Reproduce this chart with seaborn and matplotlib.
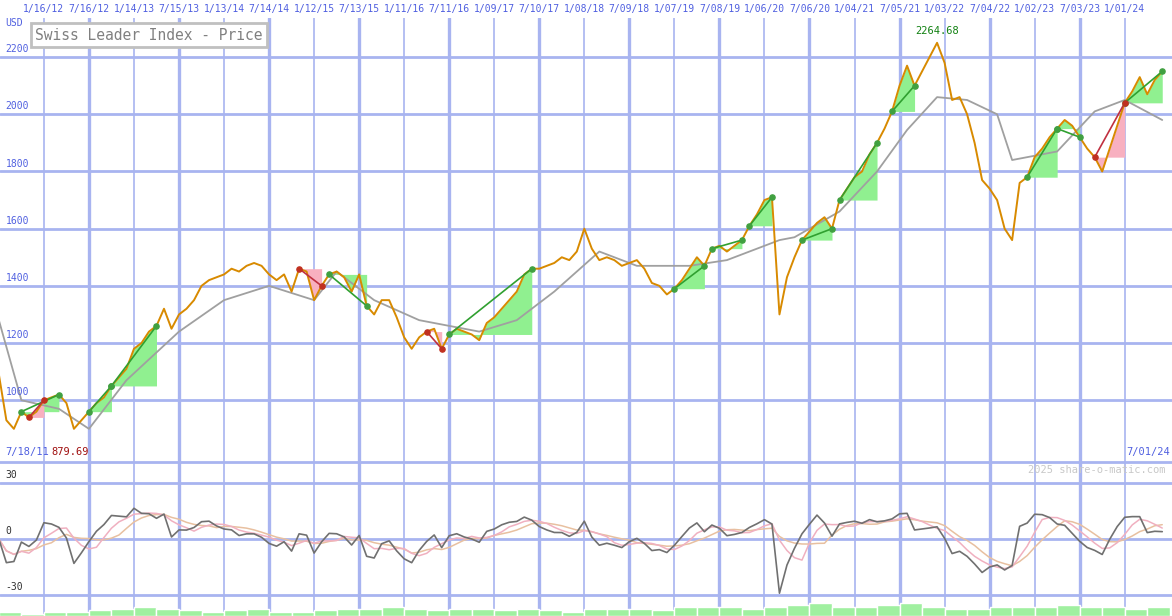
import numpy as np
import pandas as pd
import matplotlib
matplotlib.use("Agg")
import matplotlib.pyplot as plt
import seaborn as sns

sns.set_style("white")
plt.rcParams["font.family"] = ["DejaVu Sans Mono"]

# monthly closes, Jul 2011 .. Jun 2024 (month index 0 = Jul 2011)
price = [1090, 930, 900, 960, 940, 960,
         1000, 1010, 1020, 990, 900, 930, 960, 990, 1010, 1050, 1080, 1110,
         1180, 1200, 1240, 1260, 1320, 1250, 1300, 1320, 1350, 1400, 1420, 1430,
         1440, 1460, 1450, 1470, 1480, 1470, 1440, 1420, 1440, 1380, 1460, 1450,
         1350, 1400, 1440, 1450, 1430, 1380, 1440, 1330, 1300, 1350, 1350, 1290,
         1220, 1180, 1220, 1240, 1250, 1180, 1230, 1250, 1240, 1230, 1210, 1270,
         1290, 1320, 1350, 1380, 1440, 1460, 1460, 1470, 1480, 1500, 1490, 1520,
         1600, 1530, 1490, 1500, 1490, 1470, 1480, 1490, 1460, 1410, 1400, 1370,
         1390, 1420, 1460, 1500, 1470, 1530, 1540, 1520, 1540, 1560, 1610, 1650,
         1700, 1710, 1300, 1430, 1500, 1560, 1590, 1620, 1640, 1600, 1700, 1740,
         1780, 1800, 1860, 1900, 1950, 2010, 2100, 2170, 2100, 2150, 2200, 2250,
         2180, 2050, 2060, 2000, 1900, 1770, 1740, 1700, 1600, 1560, 1760, 1780,
         1850, 1880, 1920, 1950, 1980, 1960, 1920, 1880, 1850, 1800, 1880, 1960,
         2040, 2080, 2130, 2070, 2120, 2150]

# benchmark (grey), month index / value
bench_m = [0, 3, 8, 12, 17, 24, 30, 36, 42, 45, 50, 56, 64, 69, 74, 80, 85, 92,
           97, 104, 106, 112, 117, 121, 125, 129, 133, 135, 141, 146, 150, 155]
bench_v = [1280, 1000, 970, 900, 1070, 1240, 1350, 1400, 1350, 1450, 1350, 1280,
           1240, 1280, 1380, 1520, 1470, 1470, 1490, 1560, 1570, 1660, 1800, 1945,
           2060, 2050, 2000, 1840, 1870, 2010, 2050, 1980]

green_seg = [(3, 8), (12, 15), (15, 21), (44, 49), (60, 71), (90, 94), (95, 99),
             (100, 103), (107, 111), (112, 117), (119, 122), (137, 141), (141, 144),
             (150, 155)]
red_seg = [(4, 6), (40, 43), (57, 59), (146, 150)]

# volume-like bars at the bottom (quarterly)
vol = [2, 1, 2, 2, 3, 4, 5, 4, 3, 2, 3, 4, 2, 2, 3, 4, 4, 5, 4, 3, 4, 4, 3, 4,
       3, 2, 4, 4, 4, 3, 5, 5, 5, 4, 5, 6, 7, 5, 5, 6, 7, 5, 4, 4, 5, 5, 5, 6,
       5, 5, 4, 5]

date_labels = ["1/16/12", "7/16/12", "1/14/13", "7/15/13", "1/13/14", "7/14/14",
               "1/12/15", "7/13/15", "1/11/16", "7/11/16", "1/09/17", "7/10/17",
               "1/08/18", "7/09/18", "1/07/19", "7/08/19", "1/06/20", "7/06/20",
               "1/04/21", "7/05/21", "1/03/22", "7/04/22", "1/02/23", "7/03/23",
               "1/01/24"]

df = pd.DataFrame({"m": np.arange(len(price)), "price": price})
s = df["price"]
osc = (s / s.rolling(6, min_periods=1).mean() - 1) * 100 * 1.6
osc_ma1 = osc.rolling(4, min_periods=1).mean()
osc_ma2 = osc.rolling(7, min_periods=1).mean()

grid_c = "#a8b4f0"
blue_t = "#5060e0"
fig = plt.figure(figsize=(11.72, 6.16), dpi=100)
ax = fig.add_axes([0, 0.25, 1, 0.72])
ax2 = fig.add_axes([0, 0, 1, 0.25])
xlim = (0.15, 156.3)
for a in (ax, ax2):
    a.set_xlim(*xlim)
    a.set_xticks([])
    a.set_yticks([])
    for sp in a.spines.values():
        sp.set_visible(False)
    for k in range(len(date_labels)):
        a.axvline(6 + 6 * k, color=grid_c, lw=2.4 if k % 2 else 1.2, zorder=0)
ax2.spines["top"].set_visible(True)
ax2.spines["top"].set_color(grid_c)
ax2.spines["top"].set_linewidth(2)

ax.set_ylim(784, 2335)
for v in range(1000, 2400, 200):
    ax.axhline(v, color=grid_c, lw=2, zorder=0)
    ax.text(0.9, v + 10, str(v), color=blue_t, fontsize=7, va="bottom")
ax.text(0.9, 2300, "USD", color=blue_t, fontsize=7, va="bottom")

# highlighted segments
for a0, b0 in green_seg:
    seg = df.iloc[a0:b0 + 1]
    ax.fill_between(seg["m"], seg["price"], price[a0], color="#90f090", zorder=1, lw=0)
    ax.plot([a0, b0], [price[a0], price[b0]], color="#30a030", lw=1.2, zorder=4)
    ax.scatter([a0, b0], [price[a0], price[b0]], s=14, color="#40a040", zorder=5)
for a0, b0 in red_seg:
    seg = df.iloc[a0:b0 + 1]
    ax.fill_between(seg["m"], seg["price"], price[a0], color="#f8b0c0", zorder=1, lw=0)
    ax.plot([a0, b0], [price[a0], price[b0]], color="#c03040", lw=1.2, zorder=4)
    ax.scatter([a0, b0], [price[a0], price[b0]], s=14, color="#c03020", zorder=5)

sns.lineplot(x=bench_m, y=bench_v, ax=ax, color="#a0a0a0", lw=1.3, zorder=2)
sns.lineplot(data=df, x="m", y="price", ax=ax, color="#d88a00", lw=1.4, zorder=3)
ax.set_xlabel("")
ax.set_ylabel("")

imax = int(np.argmax(price))
ax.text(imax, price[imax] + 25, f"{2264.68:.2f}", color="#108010", fontsize=7.5, ha="center", va="bottom")
ax.text(7, 800, "879.69", color="#a01010", fontsize=7.5, ha="left", va="bottom")
ax.text(0.9, 800, "7/18/11", color=blue_t, fontsize=7.5, ha="left", va="bottom")
ax.text(156, 800, "7/01/24", color=blue_t, fontsize=7.5, ha="right", va="bottom")

for k, lab in enumerate(date_labels):
    ax.text(6 + 6 * k, 1.022, lab, transform=ax.get_xaxis_transform(), color=blue_t,
            fontsize=7, ha="center", va="center")

ax.text(4.8, 2277, "Swiss Leader Index - Price", color="#808080", fontsize=10.5, va="center",
        bbox=dict(boxstyle="square,pad=0.3", fc="white", ec="#c0c0c0", lw=2))

# lower panel
ax2.set_ylim(-41.25, 41.25)
for v in (30, 0, -30):
    ax2.axhline(v, color=grid_c, lw=2, zorder=0)
    ax2.text(0.9, v + 1.5, str(v), color="#303030", fontsize=7, va="bottom")
vm = np.arange(len(vol)) * 3 + 1.5
ax2.bar(vm, vol, bottom=-41.25, width=3, color="#a0f0a0", zorder=1)
ax2.plot(df["m"], osc_ma2, color="#e8c0a0", lw=1.1, zorder=2)
ax2.plot(df["m"], osc_ma1, color="#f0b0c0", lw=1.1, zorder=2)
sns.lineplot(x=df["m"], y=osc, ax=ax2, color="#707070", lw=1.2, zorder=3)
ax2.set_xlabel("")
ax2.set_ylabel("")
ax2.text(155.5, 37, "2025 share-o-matic.com", color="#c8c8c8", fontsize=7.5, ha="right", va="center")

fig.savefig("out.png", dpi=100)
